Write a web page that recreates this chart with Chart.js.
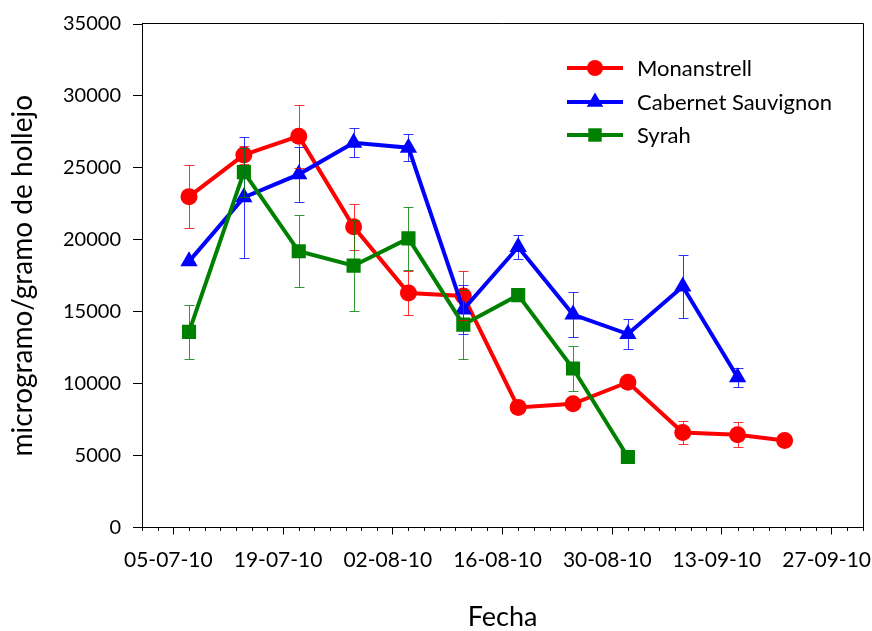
<!DOCTYPE html>
<html><head><meta charset="utf-8">
<script src="https://cdn.jsdelivr.net/npm/chart.js@4.4.1/dist/chart.umd.min.js"></script>
<style>html,body{margin:0;padding:0;background:#fff;}#wrap{width:872px;height:631px;position:relative;}</style>
</head><body><div id="wrap"><canvas id="c" width="872" height="631"></canvas></div>
<script>
// ---- data ----
const axisStart = '2010-07-01';
const axisEnd = '2010-10-01';
const sampleDates = ['2010-07-07','2010-07-14','2010-07-21','2010-07-28','2010-08-04','2010-08-11','2010-08-18','2010-08-25','2010-09-01','2010-09-08','2010-09-15','2010-09-21'];
const monastrell    = [23000, 25900, 27200, 20900, 16300, 16100, 8350, 8600, 10100, 6600, 6450, 6050];
const monastrellErr = [2200, 600, 2200, 1600, 1500, 1700, null, null, null, 800, 850, null];
const cabernet      = [18500, 22950, 24550, 26750, 26400, 15150, 19500, 14800, 13450, 16750, 10450];
const cabernetErr   = [null, 4200, 1900, 1000, 950, 1700, 850, 1550, 1050, 2200, 650];
const syrah         = [13600, 24700, 19200, 18200, 20100, 14100, 16150, 11050, 4900];
const syrahErr      = [1900, 1700, 2500, 3150, 2200, 2400, null, 1550, null];
const seriesNames = ['Monanstrell', 'Cabernet Sauvignon', 'Syrah'];
const xTickDates  = ['2010-07-05','2010-07-19','2010-08-02','2010-08-16','2010-08-30','2010-09-13','2010-09-27'];
const xTickLabels = ['05-07-10','19-07-10','02-08-10','16-08-10','30-08-10','13-09-10','27-09-10'];
const yTickValues = [0, 5000, 10000, 15000, 20000, 25000, 30000, 35000];

// ---- helpers ----
const DAY = 86400000;
const dayNum = d => (Date.parse(d) - Date.parse(axisStart)) / DAY;
const toPts = vals => vals.map((v, i) => ({x: dayNum(sampleDates[i]), y: v}));
const FONT = 'Lato';

const frame = {
  id: 'frame',
  afterDraw(chart) {
    const {ctx, chartArea: a} = chart;
    ctx.save();
    ctx.strokeStyle = '#000'; ctx.lineWidth = 1;
    ctx.beginPath();
    ctx.moveTo(a.left, Math.round(a.top) + 0.5 - 1);
    ctx.lineTo(Math.round(a.right) + 0.5, Math.round(a.top) + 0.5 - 1);
    ctx.lineTo(Math.round(a.right) + 0.5, a.bottom);
    ctx.stroke();
    ctx.restore();
  }
};

const minorTicks = {
  id: 'minorTicks',
  afterDraw(chart) {
    const xs = chart.scales.x, {ctx} = chart;
    const y0 = Math.round(chart.chartArea.bottom);
    const majors = xTickDates.map(dayNum);
    ctx.save();
    ctx.strokeStyle = '#000'; ctx.lineWidth = 1;
    for (let v = 0; v <= dayNum(axisEnd); v += 2) {
      if (majors.includes(v)) continue;
      const px = Math.round(xs.getPixelForValue(v)) + 0.5;
      ctx.beginPath(); ctx.moveTo(px, y0); ctx.lineTo(px, y0 + 3); ctx.stroke();
    }
    ctx.restore();
  }
};

const errorBars = {
  id: 'errorBars',
  afterDatasetsDraw(chart) {
    const {ctx} = chart, xs = chart.scales.x, ys = chart.scales.y;
    ctx.save();
    chart.data.datasets.forEach(ds => {
      ctx.strokeStyle = ds.borderColor; ctx.lineWidth = 1; ctx.globalAlpha = 0.8;
      ds.data.forEach((p, i) => {
        const e = ds.err[i];
        if (!e) return;
        const px = Math.round(xs.getPixelForValue(p.x)) + 0.5;
        const yt = Math.round(ys.getPixelForValue(p.y + e)) + 0.5;
        const yb = Math.round(ys.getPixelForValue(p.y - e)) + 0.5;
        ctx.beginPath();
        ctx.moveTo(px, yt); ctx.lineTo(px, yb);
        ctx.moveTo(px - 5, yt); ctx.lineTo(px + 5, yt);
        ctx.moveTo(px - 5, yb); ctx.lineTo(px + 5, yb);
        ctx.stroke();
      });
    });
    ctx.restore();
  }
};

const legendBox = {
  id: 'legendBox',
  afterDraw(chart) {
    const {ctx} = chart;
    const rows = [68, 102, 135];
    ctx.save();
    chart.data.datasets.forEach((ds, i) => {
      const y = rows[i];
      ctx.strokeStyle = ds.borderColor; ctx.lineWidth = 4;
      ctx.beginPath(); ctx.moveTo(567, y); ctx.lineTo(623, y); ctx.stroke();
      ctx.fillStyle = ds.backgroundColor;
      Chart.helpers.drawPoint(ctx, {pointStyle: ds.pointStyle, radius: ds.pointRadius * 0.95, borderWidth: 0}, 595, y);
      ctx.fillStyle = '#000';
      ctx.font = '22px ' + FONT;
      ctx.textBaseline = 'middle'; ctx.textAlign = 'left';
      ctx.fillText(ds.label, 637, y + 1);
    });
    ctx.restore();
  }
};

new Chart(document.getElementById('c'), {
  type: 'line',
  data: {
    datasets: [
      {label: seriesNames[0], data: toPts(monastrell), err: monastrellErr, borderColor: '#ff0000', backgroundColor: '#ff0000',
       borderWidth: 4, pointStyle: 'circle', pointRadius: 8.5, pointBorderWidth: 0, order: 3},
      {label: seriesNames[1], data: toPts(cabernet), err: cabernetErr, borderColor: '#0000ff', backgroundColor: '#0000ff',
       borderWidth: 4, pointStyle: 'triangle', pointRadius: 10, pointBorderWidth: 0, order: 2},
      {label: seriesNames[2], data: toPts(syrah), err: syrahErr, borderColor: '#008000', backgroundColor: '#008000',
       borderWidth: 4, pointStyle: 'rect', pointRadius: 10, pointBorderWidth: 0, order: 1}
    ]
  },
  options: {
    responsive: false, animation: false, devicePixelRatio: 1,
    layout: {autoPadding: false, padding: {left: 0, top: 24, right: 9, bottom: 0}},
    plugins: {legend: {display: false}, tooltip: {enabled: false}},
    elements: {line: {tension: 0}},
    scales: {
      x: {
        type: 'linear', min: 0, max: dayNum(axisEnd),
        afterBuildTicks: s => { s.ticks = xTickDates.map(d => ({value: dayNum(d)})); },
        afterFit: s => { s.height = 103.5; s.paddingLeft = 0; s.paddingRight = 0; },
        ticks: {
          autoSkip: false, maxRotation: 0, minRotation: 0, padding: 13, labelOffset: -5,
          color: '#000', font: {family: FONT, size: 21},
          callback: v => { const k = xTickDates.findIndex(d => dayNum(d) === v); return k >= 0 ? xTickLabels[k] : ''; }
        },
        grid: {drawOnChartArea: false, drawTicks: true, tickLength: 7, tickColor: '#000'},
        border: {display: true, color: '#000', width: 1},
        title: {display: true, text: 'Fecha', color: '#000', font: {family: FONT, size: 27, lineHeight: 1}, padding: {top: 0, bottom: 0}}
      },
      y: {
        min: 0, max: 35000,
        afterBuildTicks: s => { s.ticks = yTickValues.map(v => ({value: v})); },
        afterFit: s => { s.width = 142; s.paddingTop = 0; s.paddingBottom = 0; },
        ticks: {color: '#000', font: {family: FONT, size: 20}, padding: 12, callback: v => String(v)},
        grid: {drawOnChartArea: false, drawTicks: true, tickLength: 9, tickColor: '#000'},
        border: {display: true, color: '#000', width: 1},
        title: {display: true, text: 'microgramo/gramo de hollejo', color: '#000', font: {family: FONT, size: 28, lineHeight: 1}, padding: {top: 9, bottom: 0}}
      }
    }
  },
  plugins: [frame, minorTicks, errorBars, legendBox]
});
</script></body></html>
